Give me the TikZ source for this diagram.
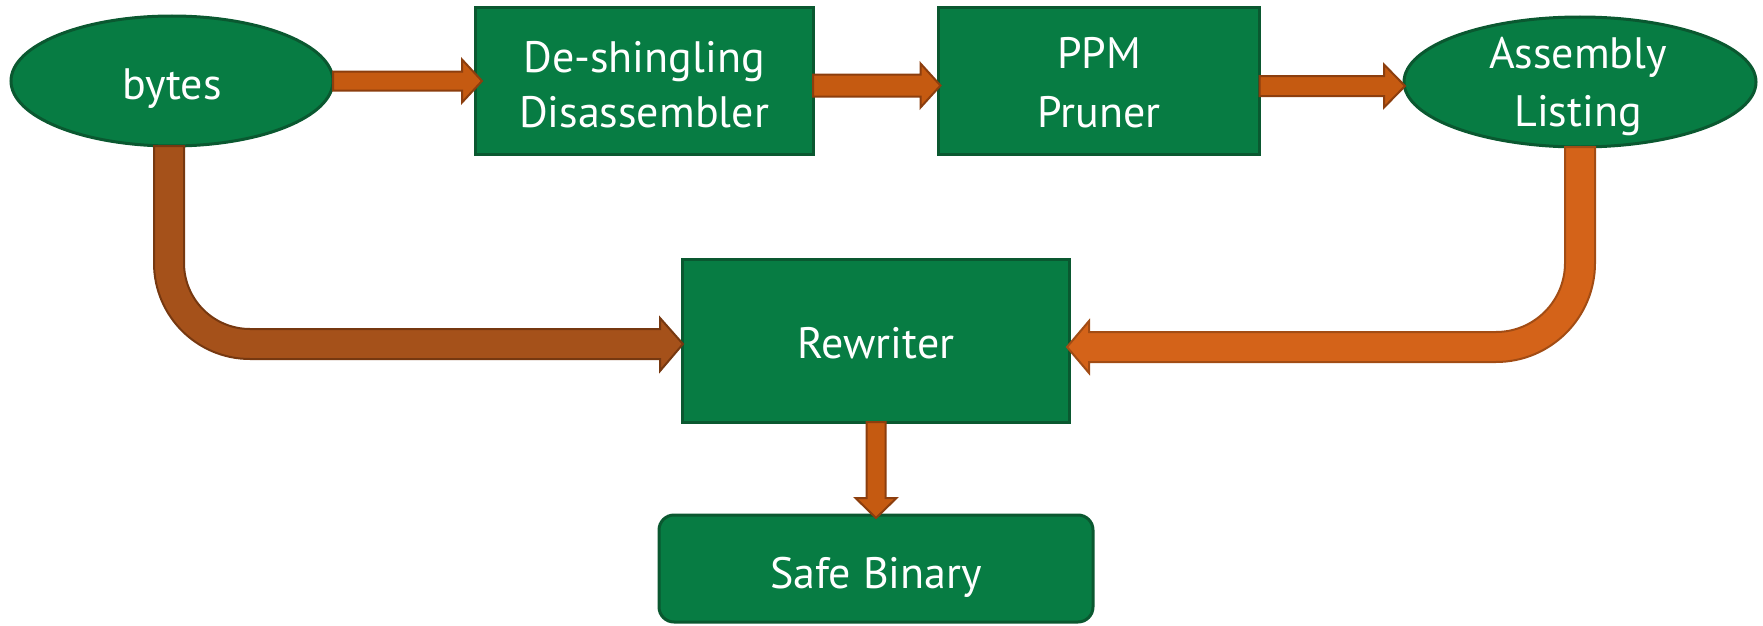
\documentclass[tikz,border=0pt]{standalone}
\usepackage{fontspec}
\setmainfont{PT Sans}
\usetikzlibrary{calc,shapes.geometric}
\definecolor{gfill}{RGB}{7,124,67}
\definecolor{gline}{RGB}{10,88,48}
\definecolor{oA}{RGB}{197,90,17}
\definecolor{oAl}{RGB}{140,62,14}
\definecolor{oB}{RGB}{165,81,26}
\definecolor{oBl}{RGB}{118,56,16}
\definecolor{oC}{RGB}{212,99,25}
\definecolor{oCl}{RGB}{162,76,20}
\tikzset{
  gnode/.style={fill=gfill, draw=gline, line width=3pt, inner sep=0pt, outer sep=0pt},
  rectbox/.style={gnode, rectangle},
  ellbox/.style={gnode, ellipse},
  roundbox/.style={gnode, rectangle, rounded corners=15pt},
  txt/.style={text=white, font=\fontsize{44}{55}\selectfont, inner sep=0pt, anchor=base},
  arrA/.style={fill=oA, draw=oAl, line width=2pt, line join=miter},
  arrB/.style={fill=oB, draw=oBl, line width=2pt, line join=miter},
  arrC/.style={fill=oC, draw=oCl, line width=2pt, line join=miter}
}
% horizontal block arrow: style, start, tip, half shaft, half head, head length
\newcommand{\hblock}[6]{\filldraw[#1] ($(#2)+(0,-#4)$) -- ($(#3)+(-#6,-#4)$) -- ($(#3)+(-#6,-#5)$) -- (#3) -- ($(#3)+(-#6,#5)$) -- ($(#3)+(-#6,#4)$) -- ($(#2)+(0,#4)$) -- cycle;}
% vertical (downward) block arrow
\newcommand{\vblock}[6]{\filldraw[#1] ($(#2)+(-#4,0)$) -- ($(#3)+(-#4,#6)$) -- ($(#3)+(-#5,#6)$) -- (#3) -- ($(#3)+(#5,#6)$) -- ($(#3)+(#4,#6)$) -- ($(#2)+(#4,0)$) -- cycle;}
\begin{document}
\begin{tikzpicture}[x=1pt,y=1pt]
\useasboundingbox (0,0) rectangle (1763,-626);
% nodes
\node[ellbox, minimum width=322pt, minimum height=130pt] (bytes) at (172,-81) {};
\node[rectbox, minimum width=338pt, minimum height=146pt] (ds) at (644,-81) {};
\node[rectbox, minimum width=321pt, minimum height=146pt] (ppm) at (1099,-81) {};
\node[ellbox, minimum width=352pt, minimum height=130pt] (asm) at (1580,-82) {};
\node[rectbox, minimum width=387pt, minimum height=163pt] (rw) at (875.5,-340.5) {};
\node[roundbox, minimum width=434pt, minimum height=107pt] (safe) at (876,-568.5) {};
% texts
\node[txt] (tbytes) at (172,-99) {bytes};
\node[txt] (tds1) at (644,-72) {De-shingling};
\node[txt] (tds2) at (644,-127) {Disassembler};
\node[txt] (tppm1) at (1099,-69) {PPM};
\node[txt] (tppm2) at (1099,-127) {Pruner};
\node[txt] (tasm1) at (1578,-68) {Assembly};
\node[txt] (tasm2) at (1578,-126) {Listing};
\node[txt] (trw) at (876,-358) {Rewriter};
\node[txt] (tsafe) at (876,-588) {Safe Binary};
% straight arrows
\coordinate (a1t) at ([xshift=7pt]ds.west);
\hblock{arrA}{bytes.east}{a1t}{9.5}{21.5}{20}
\coordinate (a2t) at ([shift={(2,-4.5)}]ppm.west);
\coordinate (a2s) at (a2t -| ds.east);
\hblock{arrA}{a2s}{a2t}{11}{22}{20}
\coordinate (a3t) at ([shift={(1,-4)}]asm.west);
\coordinate (a3s) at (a3t -| ppm.east);
\hblock{arrA}{a3s}{a3t}{10}{21.5}{21}
\coordinate (a4t) at ([yshift=-3pt]safe.north);
\coordinate (a4s) at (a4t |- rw.south);
\vblock{arrA}{a4s}{a4t}{9.5}{20.5}{20}
% bent arrow from bytes to rewriter
\coordinate (bt) at ([shift={(1,-3.5)}]rw.west);
\filldraw[arrB] ([xshift=-18pt]bytes.south) -- ++(0,-117) arc[start angle=180,end angle=270,radius=96]
  -- ($(bt)+(-23,-15)$) -- ($(bt)+(-23,-27)$) -- (bt) -- ($(bt)+(-23,26)$) -- ($(bt)+(-23,15)$)
  -- ++(-410,0) arc[start angle=270,end angle=180,radius=66] -- ([xshift=12pt]bytes.south) -- cycle;
% bent arrow from assembly listing to rewriter
\coordinate (ct) at ([shift={(-2,-6.5)}]rw.east);
\filldraw[arrC] ([xshift=15pt]asm.south) -- ++(0,-116) arc[start angle=0,end angle=-90,radius=99]
  -- ($(ct)+(22,-15)$) -- ($(ct)+(22,-26)$) -- (ct) -- ($(ct)+(22,26)$) -- ($(ct)+(22,15)$)
  -- ++(407,0) arc[start angle=-90,end angle=0,radius=69] -- ([xshift=-15pt]asm.south) -- cycle;
\end{tikzpicture}
\end{document}
